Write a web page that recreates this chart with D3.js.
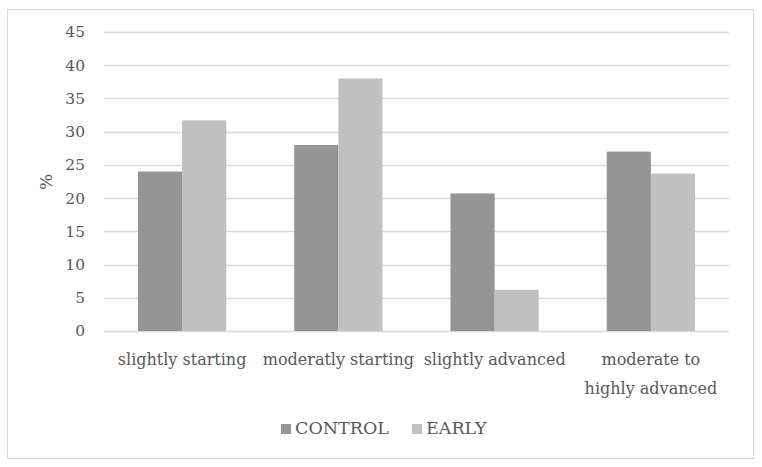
<!DOCTYPE html>
<html>
<head>
<meta charset="utf-8">
<script src="https://cdn.jsdelivr.net/npm/d3@7"></script>
<style>
  body { margin: 0; background: #fff; }
  text { font-family: 'DejaVu Serif', serif; fill: #595959; }
</style>
</head>
<body>
<svg></svg>
<script>
// data
let categories = ['slightly starting', 'moderatly starting', 'slightly advanced', 'moderate to|highly advanced']
let seriesNames = ['CONTROL', 'EARLY']
let control = [24.0, 28.0, 20.7, 27.0]
let early = [31.7, 38.0, 6.2, 23.7]
let yTicks = [0, 5, 10, 15, 20, 25, 30, 35, 40, 45]
let colors = ['#959595', '#c0c0c0']

let width = 762,
    height = 467,
    margin = {left: 104, right: 33, top: 32, bottom: 136}

let svg = d3.select('svg').attr('width', width).attr('height', height)

// outer frame
svg.append('rect')
  .attr('x', 7.5).attr('y', 9.5)
  .attr('width', 746).attr('height', 449)
  .attr('fill', 'none').attr('stroke', '#d9d9d9')

let x = d3.scaleBand()
  .domain(categories)
  .range([margin.left, width - margin.right])
  .paddingInner(0.435).paddingOuter(0.2175)

let xSub = d3.scaleBand()
  .domain(seriesNames)
  .range([0, x.bandwidth()])

let y = d3.scaleLinear()
  .domain([0, 45])
  .range([height - margin.bottom, margin.top])

// gridlines
svg.append('g').selectAll('line')
  .data(yTicks)
  .enter().append('line')
  .attr('x1', margin.left).attr('x2', width - margin.right)
  .attr('y1', d => Math.round(y(d)) + 0.5).attr('y2', d => Math.round(y(d)) + 0.5)
  .attr('stroke', '#d9d9d9').attr('stroke-width', 1.3)

// y axis labels
let yAxis = d3.axisLeft(y).tickValues(yTicks).tickSize(0).tickPadding(19)
let ya = svg.append('g').attr('transform', `translate(${margin.left},0)`).call(yAxis)
ya.select('.domain').remove()
ya.selectAll('text').style('font-size', '15.5px').style('font-family', null).attr('fill', '#595959')

// bars
let rows = categories.map((c, i) => ({cat: c, vals: [control[i], early[i]]}))
let groups = svg.append('g').selectAll('g')
  .data(rows)
  .enter().append('g')
  .attr('transform', d => `translate(${x(d.cat)},0)`)
groups.selectAll('rect')
  .data(d => d.vals.map((v, j) => ({name: seriesNames[j], v: v, j: j})))
  .enter().append('rect')
  .attr('x', d => xSub(d.name))
  .attr('width', xSub.bandwidth())
  .attr('y', d => y(d.v))
  .attr('height', d => y(0) - y(d.v))
  .attr('fill', d => colors[d.j])

// category labels
let cl = svg.append('g').selectAll('text')
  .data(categories)
  .enter().append('text')
  .attr('text-anchor', 'middle')
  .attr('font-size', 16)
  .attr('x', d => x(d) + x.bandwidth() / 2)
  .attr('y', 365)
cl.each(function(d) {
  let lines = d.split('|')
  let t = d3.select(this)
  lines.forEach((l, i) => {
    t.append('tspan').attr('x', t.attr('x')).attr('dy', i ? 29 : 0).text(l)
  })
})

// axis title
svg.append('text')
  .attr('transform', 'translate(52,182) rotate(-90)')
  .attr('text-anchor', 'middle')
  .attr('font-size', 17)
  .text('%')

// legend
let legend = svg.append('g').attr('transform', 'translate(281,434)')
let lx = [0, 131]
seriesNames.forEach((n, i) => {
  legend.append('rect')
    .attr('x', lx[i]).attr('y', -10)
    .attr('width', 10).attr('height', 10)
    .attr('fill', colors[i])
  legend.append('text')
    .attr('x', lx[i] + 14).attr('y', 0)
    .attr('font-size', 17.5)
    .text(n)
})
</script>
</body>
</html>
